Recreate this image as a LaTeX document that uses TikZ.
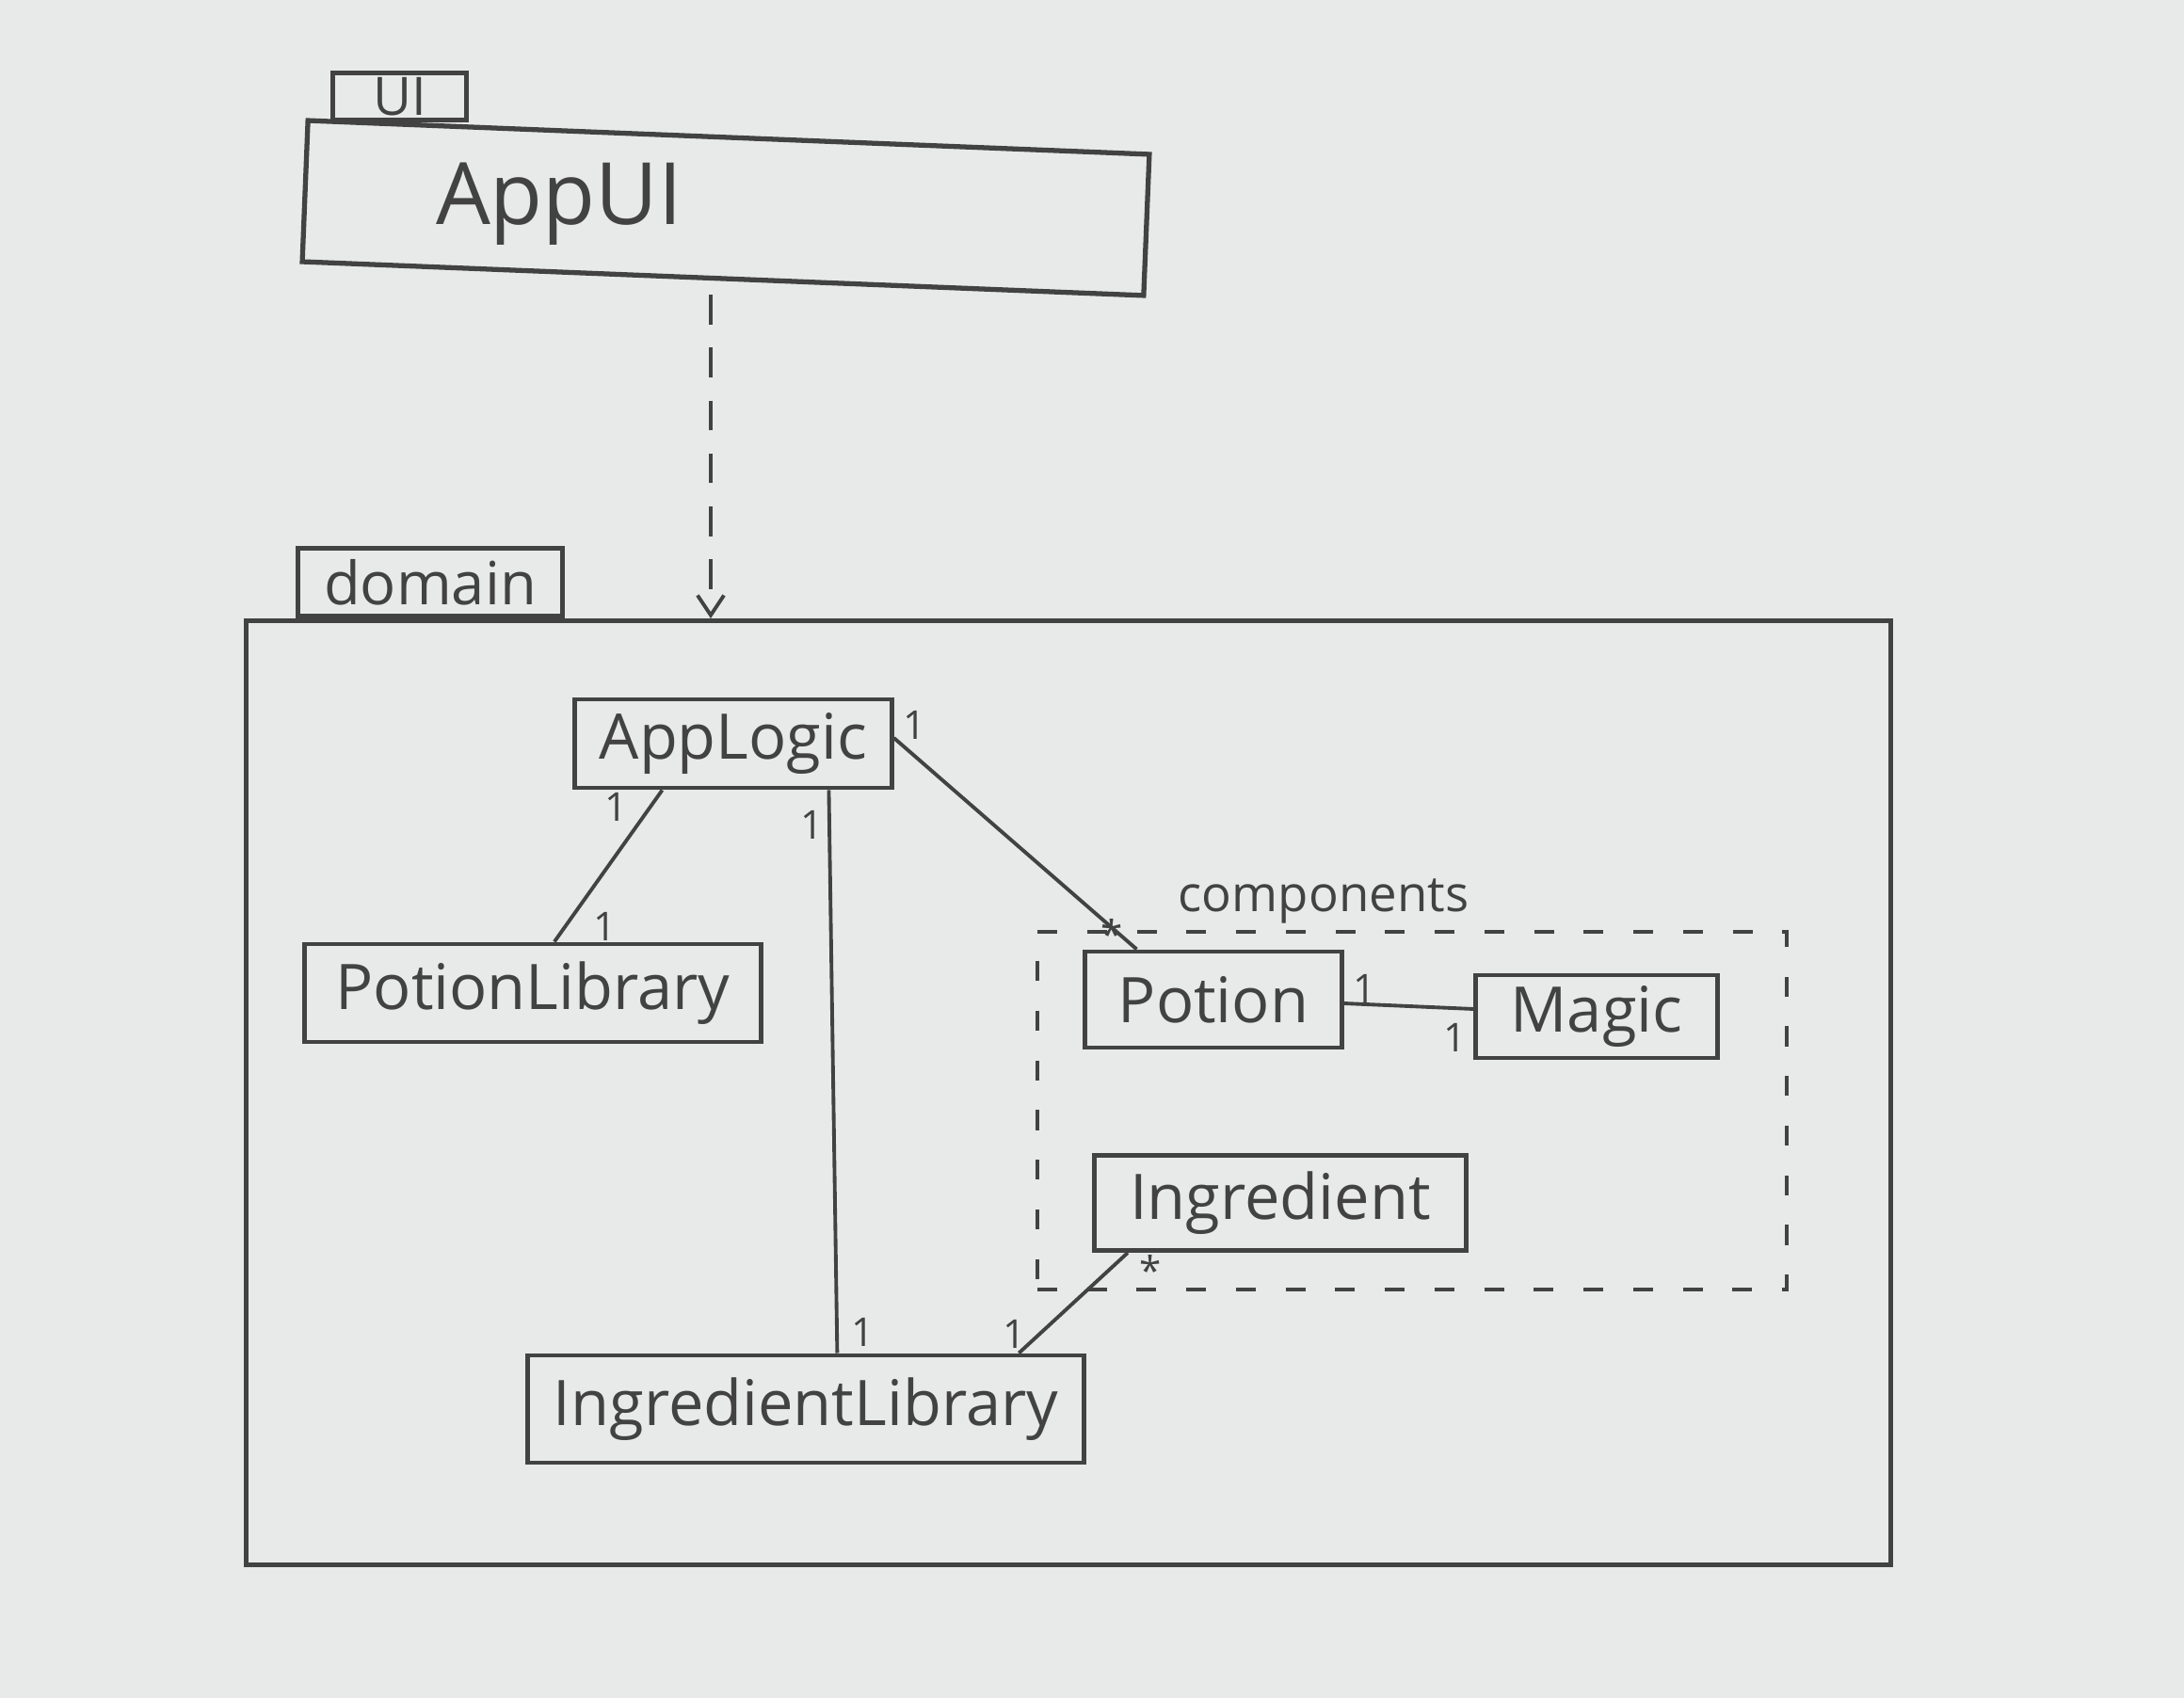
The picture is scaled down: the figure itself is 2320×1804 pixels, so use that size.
\documentclass[tikz,border=0pt]{standalone}
\usepackage{fontspec}
\setmainfont{Open Sans}
\usetikzlibrary{arrows.meta,calc}
\definecolor{paper}{RGB}{232,234,233}
\definecolor{pencil}{RGB}{66,66,66}
\begin{document}
\begin{tikzpicture}[x=0.01cm,y=-0.01cm,
  frame/.style={draw=pencil, line width=1.5pt, inner sep=0pt},
  cls/.style={draw=pencil, line width=1.4pt, inner sep=0pt, text=pencil, font=\fontsize{19}{22}\selectfont},
  mult/.style={text=pencil, inner sep=0pt, font=\fontsize{12}{14}\selectfont},
  assoc/.style={draw=pencil, line width=1.1pt},
  dep/.style={draw=pencil, line width=1.1pt, dash pattern=on 9pt off 7pt, -{Straight Barb[length=6pt,width=8pt]}},
  cframe/.style={draw=pencil, line width=1.2pt, dash pattern=on 6pt off 9pt},
  lbl/.style={text=pencil, inner sep=0pt}]
\fill[paper] (0,0) rectangle (2320,1804);
\useasboundingbox (0,0) rectangle (2320,1804);

% UI package
\node[frame, minimum width=8.94cm, minimum height=1.50cm, rotate=-2.3] (appui) at (771,221) {};
\node[frame, minimum width=1.42cm, minimum height=0.50cm, anchor=south west, text=pencil,
      font=\fontsize{16}{18}\selectfont] (uitab) at (351,130) {UI};
\node[lbl, font=\fontsize{26}{30}\selectfont] (appuitext) at (594,217) {AppUI};

% domain package
\node[frame, minimum width=17.46cm, minimum height=10.02cm] (domain) at (1135,1161) {};
\node[frame, minimum width=2.81cm, minimum height=0.72cm, anchor=south west, text=pencil,
      font=\fontsize{18}{20}\selectfont] (domtab) at ($(domain.north west)+(55,0)$) {domain};

% dependency
\coordinate (depstart) at (755,313);
\draw[dep] (depstart) -- (depstart |- domain.north);

% components
\node[cframe, minimum width=7.96cm, minimum height=3.80cm] (comp) at (1500,1180) {};
\node[lbl, font=\fontsize{15}{18}\selectfont, anchor=base] (complabel) at (1406,969) {components};

% classes
\node[cls, minimum width=3.36cm, minimum height=0.94cm] (applogic) at (779,790) {AppLogic};
\node[cls, minimum width=4.85cm, minimum height=1.04cm] (potionlib) at (566,1055) {PotionLibrary};
\node[cls, minimum width=2.72cm, minimum height=1.02cm] (potion) at (1289,1062) {Potion};
\node[cls, minimum width=2.56cm, minimum height=0.88cm] (magic) at (1696,1080) {Magic};
\node[cls, minimum width=3.95cm, minimum height=1.01cm] (ingredient) at (1360,1278) {Ingredient};
\node[cls, minimum width=5.90cm, minimum height=1.14cm] (ingredlib) at (856,1497) {IngredientLibrary};

% associations
\draw[assoc] ($(applogic.south west)+(95,0)$) -- ($(potionlib.north west)+(268,0)$);
\draw[assoc] ($(applogic.south west)+(272,0)$) -- ($(ingredlib.north west)+(331,0)$);
\draw[assoc] ($(applogic.east)+(0,-6)$) -- ($(potion.north west)+(57,0)$);
\draw[assoc] ($(potion.east)+(0,4)$) -- ($(magic.west)+(0,-8)$);
\draw[assoc] ($(ingredient.south west)+(38,0)$) -- ($(ingredlib.north west)+(524,0)$);

% multiplicities
\node[mult] (m1) at (655,857) {1};
\node[mult] (m2) at (643,984) {1};
\node[mult] (m3) at (863,876) {1};
\node[mult] (m4) at (917,1415) {1};
\node[mult] (m5) at (972,770) {1};
\node[mult] (m6) at (1181,992) {*};
\node[mult] (m7) at (1450,1050) {1};
\node[mult] (m8) at (1546,1102) {1};
\node[mult] (m9) at (1222,1349) {*};
\node[mult] (m10) at (1078,1417) {1};
\end{tikzpicture}
\end{document}
